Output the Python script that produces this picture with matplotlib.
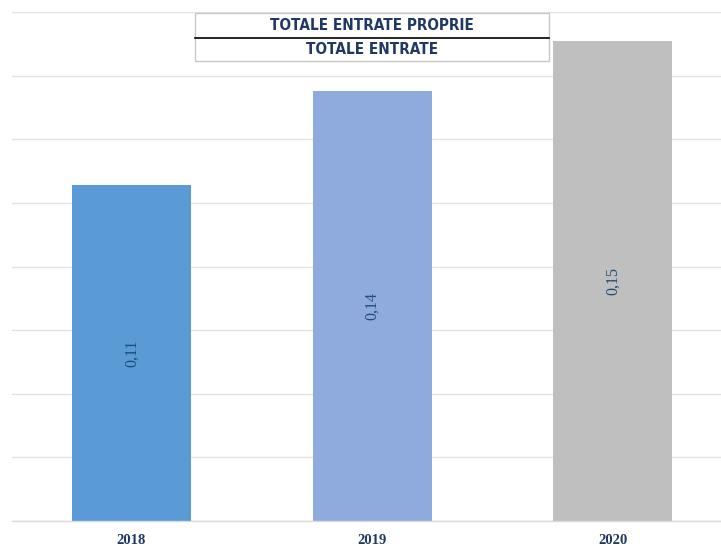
#
# Bar chart: ratio of own revenues to total revenues, 2018-2020
#

import matplotlib.pyplot as plt
from matplotlib.patches import Rectangle
from matplotlib.lines import Line2D

years = ['2018', '2019', '2020']
values = [0.1057, 0.1351, 0.151]
colors = ['#5B9BD5', '#8FAADC', '#BFBFBF']
legend_top = 'TOTALE ENTRATE PROPRIE'
legend_bottom = 'TOTALE ENTRATE'

W, H = 721, 546
fig = plt.figure(figsize=(W / 100, H / 100), dpi=100)
ax = fig.add_axes([12 / W, 25 / H, 1 - 12 / W, (521 - 12) / H])

x = range(len(years))
bars = ax.bar(x, values, width=0.495, color=colors, zorder=2)

# value labels, rotated inside the bars
for bar, v in zip(bars, values):
    ax.text(bar.get_x() + bar.get_width() / 2, v / 2,
            f'{v:.2f}'.replace('.', ','), rotation=90,
            ha='center', va='center', family='Liberation Serif',
            fontsize=11.5, color='#1F4E79', zorder=3)

ax.set_xlim(-0.497, 2.451)
ax.set_ylim(0, 0.16)
ax.set_yticks([i * 0.02 for i in range(9)])
ax.yaxis.grid(True, color='#E2E2E2', linewidth=1, zorder=0)
ax.tick_params(axis='y', left=False, labelleft=False)
ax.set_xticks(list(x))
ax.set_xticklabels(years, family='Liberation Serif', fontweight='bold',
                   fontsize=10.5, color='#1F3864')
ax.tick_params(axis='x', length=0, pad=9)
for side in ['top', 'right', 'left']:
    ax.spines[side].set_visible(False)
ax.spines['bottom'].set_color('#DADADA')
ax.spines['bottom'].set_linewidth(1)

# legend-like box at the top
x0, x1 = 195 / W, 549 / W
y0, y1 = 1 - 61 / H, 1 - 13 / H
ym = 1 - 38 / H
fig.patches.append(Rectangle((x0, y0), x1 - x0, y1 - y0, transform=fig.transFigure,
                             facecolor='white', edgecolor='#C8C8C8', linewidth=1,
                             zorder=5))
fig.lines.append(Line2D([x0, x1], [ym, ym], transform=fig.transFigure,
                        color='black', linewidth=1.2, zorder=6))
txt = dict(ha='center', va='center', fontsize=11, color='#203864',
           family='DejaVu Sans', stretch='condensed', fontweight='bold',
           zorder=7)
fig.text(372 / W, 1 - 26 / H, legend_top, **txt)
fig.text(372 / W, 1 - 50 / H, legend_bottom, **txt)

fig.savefig('out.png', dpi=100)
